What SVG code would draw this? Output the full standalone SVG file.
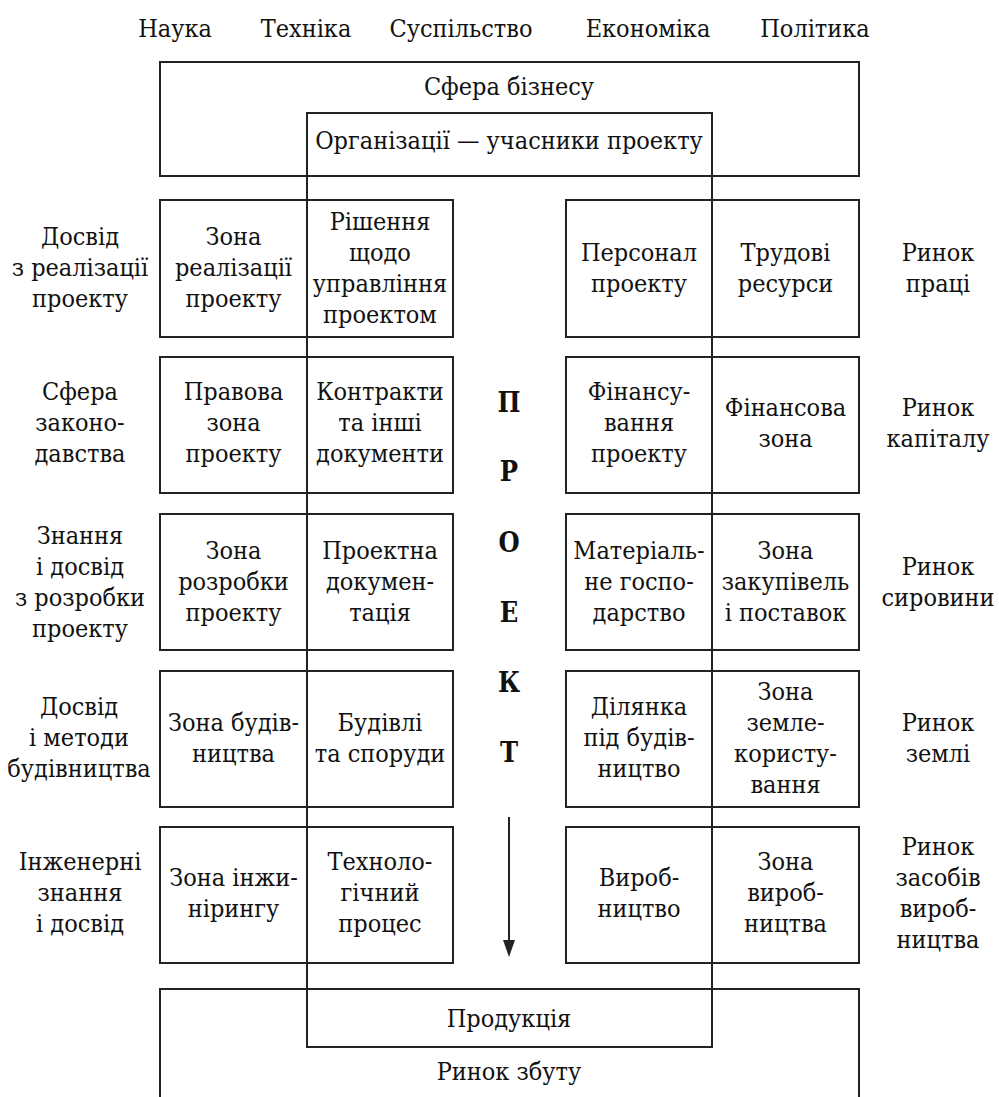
<svg xmlns="http://www.w3.org/2000/svg" width="999" height="1097" viewBox="0 0 999 1097" font-family="DejaVu Serif Condensed, DejaVu Serif, serif">
<style>
text{font-size:25px;fill:#111;text-anchor:middle}
.b{fill:none;stroke:#222;stroke-width:2}
.p{font-weight:bold;font-size:27px}
</style>
<rect width="999" height="1097" fill="#fff"/>
<g id="top-labels">
<text x="175" y="37">Наука</text>
<text x="306" y="37">Техніка</text>
<text x="461" y="37">Суспільство</text>
<text x="648" y="37">Економіка</text>
<text x="815" y="37">Політика</text>
</g>
<g id="business">
<rect class="b" x="160" y="62" width="699" height="114"/>
<text x="509" y="95">Сфера бізнесу</text>
</g>
<g id="organizations">
<rect class="b" x="307" y="113" width="405" height="63"/>
<text x="509" y="149">Організації — учасники проекту</text>
</g>
<g id="connectors">
<line class="b" x1="307" y1="113" x2="307" y2="1047"/>
<line class="b" x1="712" y1="113" x2="712" y2="1047"/>
<line class="b" x1="509" y1="817" x2="509" y2="942"/>
<polygon points="503,940 515,940 509,957" fill="#222"/>
</g>
<g id="project-word">
<text class="p" x="509" y="412">П</text>
<text class="p" x="509" y="481">Р</text>
<text class="p" x="509" y="552">О</text>
<text class="p" x="509" y="622">Е</text>
<text class="p" x="509" y="692">К</text>
<text class="p" x="509" y="762">Т</text>
</g>
<g id="row1">
<rect class="b" x="160" y="200" width="293" height="137"/>
<rect class="b" x="566" y="200" width="293" height="137"/>
<text x="80" y="245">Досвід</text><text x="80" y="276">з реалізації</text><text x="80" y="307">проекту</text>
<text x="233.5" y="245">Зона</text><text x="233.5" y="276">реалізації</text><text x="233.5" y="307">проекту</text>
<text x="380" y="229.5">Рішення</text><text x="380" y="260.5">щодо</text><text x="380" y="291.5">управління</text><text x="380" y="322.5">проектом</text>
<text x="639" y="260.5">Персонал</text><text x="639" y="291.5">проекту</text>
<text x="785.5" y="260.5">Трудові</text><text x="785.5" y="291.5">ресурси</text>
<text x="938" y="260.5">Ринок</text><text x="938" y="291.5">праці</text>
</g>
<g id="row2">
<rect class="b" x="160" y="357" width="293" height="136"/>
<rect class="b" x="566" y="357" width="293" height="136"/>
<text x="80" y="400">Сфера</text><text x="80" y="431">законо-</text><text x="80" y="462">давства</text>
<text x="233.5" y="400">Правова</text><text x="233.5" y="431">зона</text><text x="233.5" y="462">проекту</text>
<text x="380" y="400">Контракти</text><text x="380" y="431">та інші</text><text x="380" y="462">документи</text>
<text x="639" y="400">Фінансу-</text><text x="639" y="431">вання</text><text x="639" y="462">проекту</text>
<text x="785.5" y="415.5">Фінансова</text><text x="785.5" y="446.5">зона</text>
<text x="938" y="415.5">Ринок</text><text x="938" y="446.5">капіталу</text>
</g>
<g id="row3">
<rect class="b" x="160" y="514" width="293" height="136"/>
<rect class="b" x="566" y="514" width="293" height="136"/>
<text x="80" y="543.5">Знання</text><text x="80" y="574.5">і досвід</text><text x="80" y="605.5">з розробки</text><text x="80" y="636.5">проекту</text>
<text x="233.5" y="559">Зона</text><text x="233.5" y="590">розробки</text><text x="233.5" y="621">проекту</text>
<text x="380" y="559">Проектна</text><text x="380" y="590">докумен-</text><text x="380" y="621">тація</text>
<text x="639" y="559">Матеріаль-</text><text x="639" y="590">не госпо-</text><text x="639" y="621">дарство</text>
<text x="785.5" y="559">Зона</text><text x="785.5" y="590">закупівель</text><text x="785.5" y="621">і поставок</text>
<text x="938" y="574.5">Ринок</text><text x="938" y="605.5">сировини</text>
</g>
<g id="row4">
<rect class="b" x="160" y="671" width="293" height="136"/>
<rect class="b" x="566" y="671" width="293" height="136"/>
<text x="79" y="715">Досвід</text><text x="79" y="746">і методи</text><text x="79" y="777">будівництва</text>
<text x="233.5" y="730.5">Зона будів-</text><text x="233.5" y="761.5">ництва</text>
<text x="380" y="730.5">Будівлі</text><text x="380" y="761.5">та споруди</text>
<text x="639" y="715">Ділянка</text><text x="639" y="746">під будів-</text><text x="639" y="777">ництво</text>
<text x="785.5" y="699.5">Зона</text><text x="785.5" y="730.5">земле-</text><text x="785.5" y="761.5">користу-</text><text x="785.5" y="792.5">вання</text>
<text x="938" y="730.5">Ринок</text><text x="938" y="761.5">землі</text>
</g>
<g id="row5">
<rect class="b" x="160" y="827" width="293" height="136"/>
<rect class="b" x="566" y="827" width="293" height="136"/>
<text x="80" y="870">Інженерні</text><text x="80" y="901">знання</text><text x="80" y="932">і досвід</text>
<text x="233.5" y="885.5">Зона інжи-</text><text x="233.5" y="916.5">нірингу</text>
<text x="380" y="870">Техноло-</text><text x="380" y="901">гічний</text><text x="380" y="932">процес</text>
<text x="639" y="885.5">Вироб-</text><text x="639" y="916.5">ництво</text>
<text x="785.5" y="870">Зона</text><text x="785.5" y="901">вироб-</text><text x="785.5" y="932">ництва</text>
<text x="938" y="854.5">Ринок</text><text x="938" y="885.5">засобів</text><text x="938" y="916.5">вироб-</text><text x="938" y="947.5">ництва</text>
</g>
<g id="market">
<path class="b" d="M160,1100 V989 H859 V1100"/>
<text x="509" y="1080">Ринок збуту</text>
</g>
<g id="product">
<rect class="b" x="307" y="989" width="405" height="58"/>
<text x="509" y="1027">Продукція</text>
</g>
</svg>
